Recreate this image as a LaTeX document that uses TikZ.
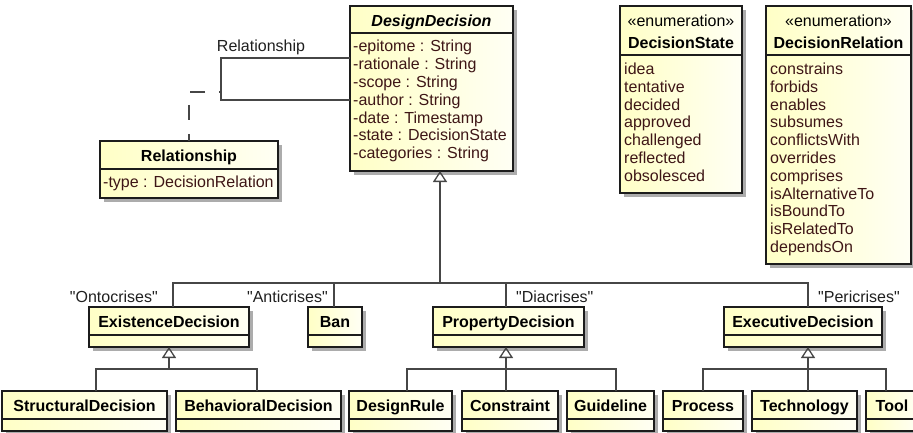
\documentclass[tikz,border=0pt]{standalone}
\usepackage{fontspec}
\setmainfont{Liberation Sans}
\usetikzlibrary{arrows.meta}

\definecolor{boxA}{RGB}{255,255,198}
\definecolor{boxB}{RGB}{255,255,244}
\definecolor{shadowgray}{RGB}{172,172,172}
\definecolor{edgegray}{RGB}{70,70,70}
\definecolor{attrtext}{RGB}{62,22,22}
\definecolor{framecol}{RGB}{28,28,28}

\tikzset{
  classbox/.style={draw=framecol, line width=1.5pt, left color=boxA, right color=boxB,
    inner sep=0pt, outer sep=0pt, anchor=north west},
  classshadow/.style={fill=shadowgray},
  divider/.style={draw=framecol, line width=1.3pt},
  hdr/.style={font=\fontsize{16}{17.8}\selectfont\bfseries, text=black, inner sep=0pt, anchor=base},
  stereo/.style={font=\fontsize{16}{17.8}\selectfont, text=black, inner sep=0pt, anchor=base},
  attr/.style={font=\fontsize{16}{17.8}\selectfont, text=attrtext, inner sep=0pt, anchor=base west},
  lbl/.style={font=\fontsize{16}{17.8}\selectfont, text=black!88, inner sep=0pt},
  edge/.style={draw=edgegray, line width=1.3pt},
  genarrow/.style={edge, -{Triangle[open, length=11pt, width=14pt]}},
  assocdash/.style={edge, dash pattern=on 15pt off 14pt},
}

% class frame: name, left, top, right, bottom, divider y
\newcommand{\umlbox}[6]{%
  \fill[classshadow] (#2+4,#3+4) rectangle (#4+4,#5+4);
  \node[classbox, minimum width={(#4)-(#2)}, minimum height={(#5)-(#3)}] (#1) at (#2,#3) {};
  \draw[divider] (#2,#6) -- (#4,#6);
}
% compartment entries: prefix, x, first baseline, items
\newcommand{\attrlist}[4]{%
  \foreach \txt [count=\k] in {#4} {
    \node[attr] (#1-\k) at (#2, {#3+17.8*(\k-1)}) {\txt};
  }
}
\newcommand{\qt}[1]{\textquotedbl#1\textquotedbl}

\begin{document}
\begin{tikzpicture}[x=1pt, y=-1pt]
\useasboundingbox (0,0) rectangle (913,433);

% ---- top row ----
\umlbox{dd}{350}{6}{513}{171}{33}
\node[hdr, font=\fontsize{16}{17.8}\selectfont\bfseries\itshape] (dd-h) at (431.5,26.5) {DesignDecision};
\attrlist{dd}{353}{52}{-epitome : String, -rationale : String, -scope : String, -author : String, -date : Timestamp, -state : DecisionState, -categories : String}

\umlbox{ds}{620}{6}{742}{193}{55}
\node[stereo] (ds-s) at (681,27) {«enumeration»};
\node[hdr] (ds-h) at (681,48.5) {DecisionState};
\attrlist{ds}{624}{74.5}{idea, tentative, decided, approved, challenged, reflected, obsolesced}

\umlbox{dr}{766}{6}{911}{264}{55}
\node[stereo] (dr-s) at (838.5,27) {«enumeration»};
\node[hdr] (dr-h) at (838.5,48.5) {DecisionRelation};
\attrlist{dr}{770}{74.5}{constrains, forbids, enables, subsumes, conflictsWith, overrides, comprises, isAlternativeTo, isBoundTo, isRelatedTo, dependsOn}

\umlbox{rel}{100}{141}{278}{198}{169}
\node[hdr] (rel-h) at (189,161) {Relationship};
\attrlist{rel}{103}{187.5}{-type : DecisionRelation}

% ---- first level of specialisations ----
\umlbox{exd}{89}{307}{249}{347}{335}
\node[hdr] (exd-h) at (169,327.5) {ExistenceDecision};
\umlbox{ban}{308}{307}{362}{347}{335}
\node[hdr] (ban-h) at (335,327.5) {Ban};
\umlbox{pd}{433}{307}{584}{347}{335}
\node[hdr] (pd-h) at (508.5,327.5) {PropertyDecision};
\umlbox{exe}{724}{307}{882}{347}{335}
\node[hdr] (exe-h) at (803,327.5) {ExecutiveDecision};

% ---- second level ----
\umlbox{sd}{2}{391}{167}{431}{419}
\node[hdr] (sd-h) at (84.5,411) {StructuralDecision};
\umlbox{bd}{176}{391}{341}{431}{419}
\node[hdr] (bd-h) at (258.5,411) {BehavioralDecision};
\umlbox{dru}{349}{391}{452}{431}{419}
\node[hdr] (dru-h) at (400.5,411) {DesignRule};
\umlbox{con}{462}{391}{558}{431}{419}
\node[hdr] (con-h) at (510,411) {Constraint};
\umlbox{gl}{567}{391}{654}{431}{419}
\node[hdr] (gl-h) at (610.5,411) {Guideline};
\umlbox{pr}{663}{391}{743}{431}{419}
\node[hdr] (pr-h) at (703,411) {Process};
\umlbox{tech}{752}{391}{857}{431}{419}
\node[hdr] (tech-h) at (804.5,411) {Technology};
\umlbox{tool}{866}{391}{918}{431}{419}
\node[hdr] (tool-h) at (892,411) {Tool};

% ---- reflexive association with association class ----
\coordinate (loopTop) at (221,58);
\coordinate (loopBot) at (221,100);
\coordinate (loopMid) at (221,79);
\draw[edge] (dd.west |- loopTop) -- (loopTop) -- (loopBot) -- (dd.west |- loopBot);
\node[lbl] (assocName) at (261,47) {Relationship};
\draw[assocdash] (loopMid) -- ++(0,13) -| (rel.north);

% ---- generalisation of DesignDecision ----
\coordinate (busRoot) at (440,283);
\coordinate (busOnto) at (173,283);
\coordinate (busAnti) at (334,283);
\coordinate (busDia) at (506,283);
\coordinate (busPeri) at (808,283);
\draw[genarrow] (busRoot) -- (dd.south -| busRoot);
\draw[edge] (exd.north -| busOnto) -- (busOnto) -- (busPeri) -- (exe.north -| busPeri);
\draw[edge] (busAnti) -- (ban.north -| busAnti);
\draw[edge] (busDia) -- (pd.north -| busDia);
\node[lbl, anchor=base east] (lblOnto) at (158,302.5) {\qt{Ontocrises}};
\node[lbl, anchor=base east] (lblAnti) at (328,302.5) {\qt{Anticrises}};
\node[lbl, anchor=base west] (lblDia) at (516,302.5) {\qt{Diacrises}};
\node[lbl, anchor=base west] (lblPeri) at (818,302.5) {\qt{Pericrises}};

% ---- generalisation of ExistenceDecision ----
\coordinate (busE) at (169,369);
\coordinate (busE1) at (96,369);
\coordinate (busE2) at (257,369);
\draw[genarrow] (busE) -- (exd.south -| busE);
\draw[edge] (sd.north -| busE1) -- (busE1) -- (busE2) -- (bd.north -| busE2);

% ---- generalisation of PropertyDecision ----
\coordinate (busP) at (506,369);
\coordinate (busP1) at (407,369);
\coordinate (busP2) at (616,369);
\draw[genarrow] (busP) -- (pd.south -| busP);
\draw[edge] (dru.north -| busP1) -- (busP1) -- (busP2) -- (gl.north -| busP2);
\draw[edge] (busP) -- (con.north -| busP);

% ---- generalisation of ExecutiveDecision ----
\coordinate (busX) at (808,369);
\coordinate (busX1) at (703,369);
\coordinate (busX2) at (886,369);
\draw[genarrow] (busX) -- (exe.south -| busX);
\draw[edge] (pr.north -| busX1) -- (busX1) -- (busX2) -- (tool.north -| busX2);
\draw[edge] (busX) -- (tech.north -| busX);
\end{tikzpicture}
\end{document}
